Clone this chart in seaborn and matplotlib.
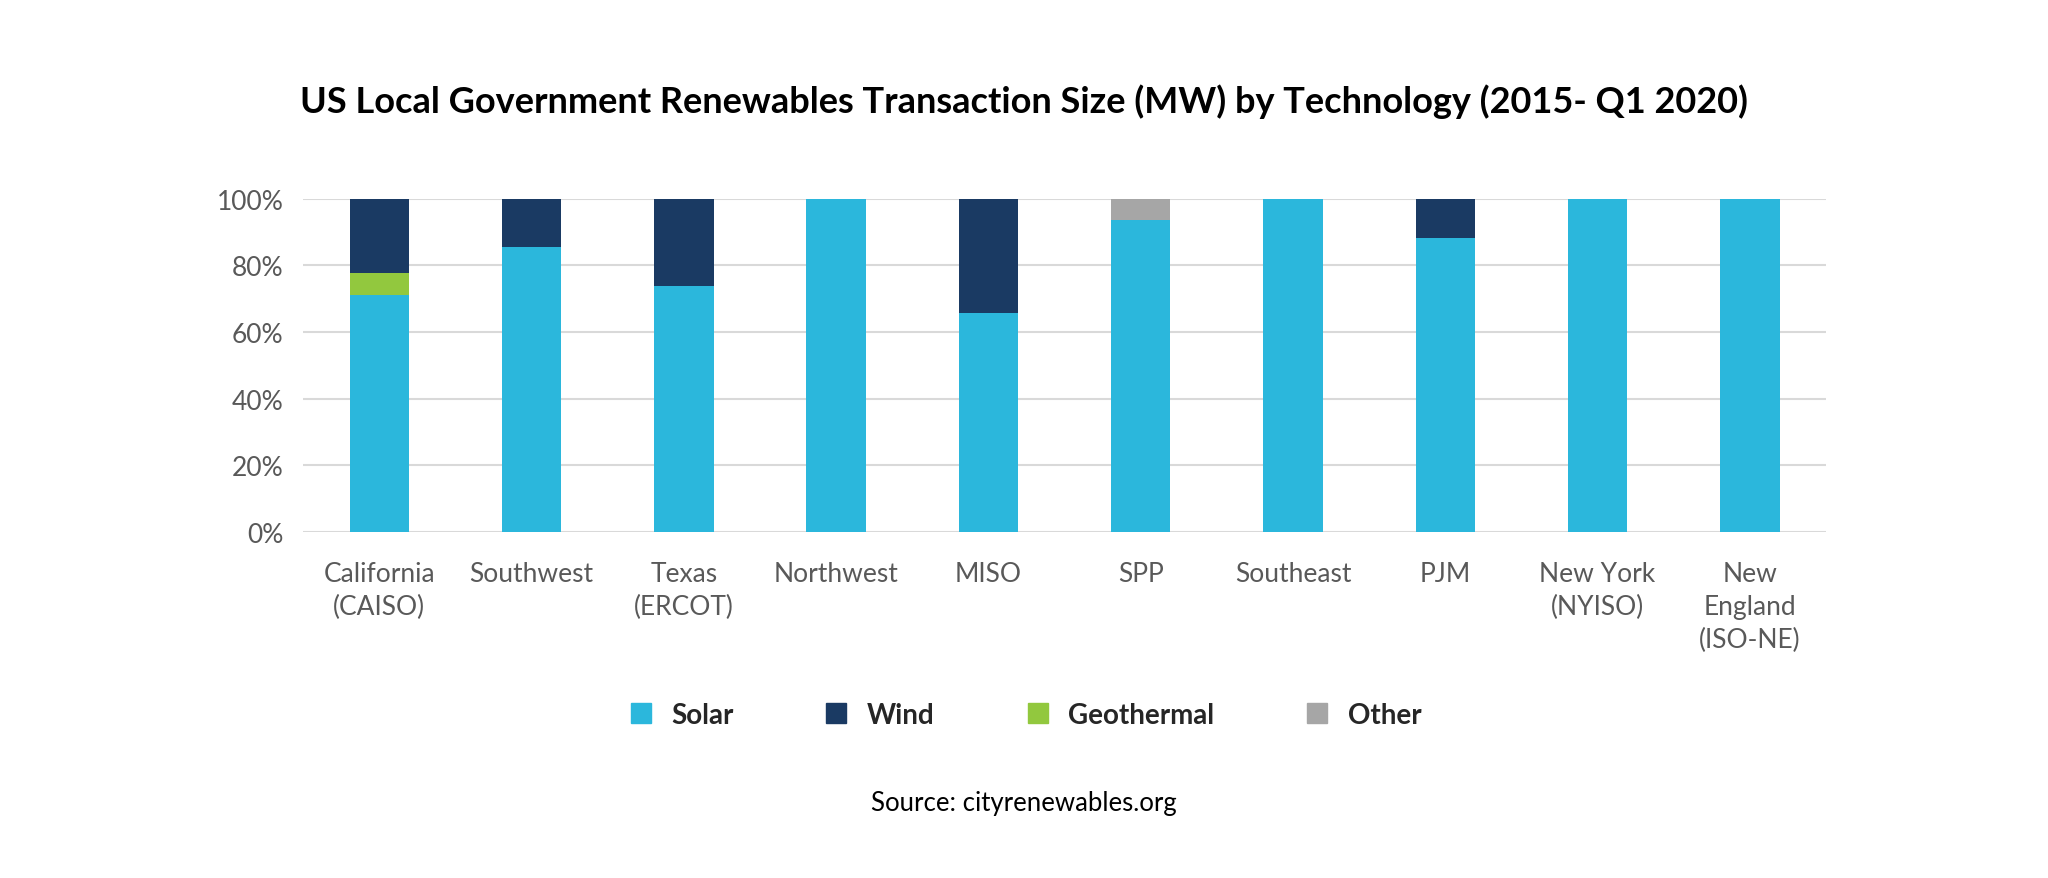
import numpy as np
import pandas as pd
import matplotlib
matplotlib.use('Agg')
import matplotlib.pyplot as plt
from matplotlib.lines import Line2D
import seaborn as sns

# data (% share of MW per region)
regions = ['California\n(CAISO)', 'Southwest', 'Texas\n(ERCOT)', 'Northwest', 'MISO',
           'SPP', 'Southeast', 'PJM', 'New York\n(NYISO)', 'New\nEngland\n(ISO-NE)']
solar = [71.1, 85.4, 73.8, 100, 65.8, 93.5, 100, 88.1, 100, 100]
geothermal = [6.7, 0, 0, 0, 0, 0, 0, 0, 0, 0]
wind = [22.2, 14.6, 26.2, 0, 34.2, 0, 0, 11.9, 0, 0]
other = [0, 0, 0, 0, 0, 6.5, 0, 0, 0, 0]

colors = {'Solar': '#2BB7DC', 'Wind': '#1A3A63', 'Geothermal': '#92C83E', 'Other': '#A6A6A6'}

df = pd.DataFrame({'region': regions, 'Solar': solar, 'Geothermal': geothermal,
                   'Wind': wind, 'Other': other})
# cumulative tops, stacked Solar -> Geothermal -> Wind -> Other
df['c1'] = df['Solar'] / 100
df['c2'] = (df['Solar'] + df['Geothermal']) / 100
df['c3'] = (df['Solar'] + df['Geothermal'] + df['Wind']) / 100
df['c4'] = (df['Solar'] + df['Geothermal'] + df['Wind'] + df['Other']) / 100

sns.set_style('white')
plt.rcParams['font.family'] = ['Lato', 'DejaVu Sans']

fig = plt.figure(figsize=(20.48, 8.79), dpi=100)
ax = fig.add_axes([0.148, 0.3936, 0.7436, 0.3794])

for col, name in [('c4', 'Other'), ('c3', 'Wind'), ('c2', 'Geothermal'), ('c1', 'Solar')]:
    sns.barplot(data=df, x='region', y=col, color=colors[name], width=0.39,
                saturation=1, linewidth=0, edgecolor='none', ax=ax, zorder=3)

ax.set_ylim(0, 1)
ax.set_xlim(-0.5, 9.5)
ax.set_yticks(np.arange(0, 1.01, 0.2))
ax.set_yticklabels([f'{int(v*100)}%' for v in np.arange(0, 1.01, 0.2)])
ax.grid(axis='y', color='#D9D9D9', lw=1.5, zorder=0)
ax.set_axisbelow(True)
for s in ax.spines.values():
    s.set_visible(False)
ax.tick_params(axis='both', length=0, labelsize=19, labelcolor='#595959')
ax.tick_params(axis='y', pad=14)
ax.tick_params(axis='x', pad=21)
ax.set_xlabel('')
ax.set_ylabel('')
for lbl in ax.get_xticklabels():
    lbl.set_linespacing(1.4)
    lbl.set_verticalalignment('top')

fig.text(0.5, 0.884, 'US Local Government Renewables Transaction Size (MW) by Technology (2015- Q1 2020)',
         ha='center', va='center', fontsize=26, fontweight='bold', color='black')

handles = [Line2D([0], [0], marker='s', color='none', markerfacecolor=colors[n],
                  markeredgecolor=colors[n], markersize=15) for n in ['Solar', 'Wind', 'Geothermal', 'Other']]
fig.legend(handles, ['Solar', 'Wind', 'Geothermal', 'Other'], loc='center',
           bbox_to_anchor=(0.5, 0.186), ncol=4, frameon=False, handlelength=1.0,
           handletextpad=0.6, columnspacing=3.2, prop={'size': 20, 'weight': 'bold'})

fig.text(0.5, 0.086, 'Source: cityrenewables.org', ha='center', va='center', fontsize=18.5, color='black')

fig.savefig('out.png', dpi=100, facecolor='white')
